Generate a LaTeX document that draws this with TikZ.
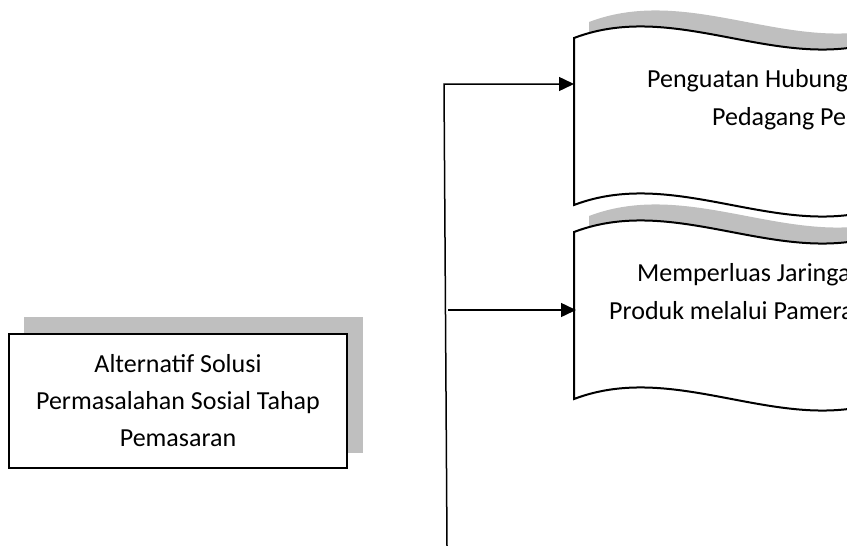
\documentclass[tikz,border=0pt]{standalone}
\usepackage{fontspec}
\setmainfont{Carlito}
\usetikzlibrary{arrows.meta, positioning}
\definecolor{shadowgray}{RGB}{191,191,191}

\begin{document}
\begin{tikzpicture}[x=1pt, y=-1pt, >={Triangle[length=15pt, width=14pt]},
    boxtext/.style={font=\fontsize{26}{37}\selectfont, align=center, inner sep=0pt},
    flagtext/.style={font=\fontsize{26}{37}\selectfont, inner sep=0pt, anchor=base west},
    outline/.style={draw=black, line width=2pt, fill=white},
    shade/.style={fill=shadowgray},
    link/.style={line width=1.5pt}]
                \useasboundingbox (0,0) rectangle (847,546);
                \clip (0,0) rectangle (847,546);

                % Solution box
                \fill[shade] (24,317) rectangle (363,453);
                \draw[outline] (9,334) rectangle (347,468);
                \node[boxtext] (solusi) at (178,401) {Alternatif Solusi\\Permasalahan Sosial Tahap\\Pemasaran};

                % Wave flags with shadow
                \foreach \ytop in {38,232} {
                    \begin{scope}[shift={(574,\ytop)}]
                        \fill[shade] (15,-16) .. controls (120,-56) and (225,24) .. (330,-16)
                            -- (330,151) .. controls (225,191) and (120,111) .. (15,151) -- cycle;
                        \draw[outline] (0,0) .. controls (105,-40) and (210,40) .. (315,0)
                            -- (315,167) .. controls (210,207) and (105,127) .. (0,167) -- cycle;
                    \end{scope}
                }

                % Flag labels
                \node[flagtext] (hubungan1) at (647,87) {Penguatan Hubungan dengan};
                \node[flagtext] (hubungan2) at (712,125) {Pedagang Pelanggan};
                \node[flagtext] (pameran1) at (637,281) {Memperluas Jaringan};
                \node[flagtext] (pameran2) at (609,319) {Produk melalui Pameran};

                % Trunk and branches
                \coordinate (trunktop) at (444,84);
                \coordinate (trunkend) at (447,546);
                \coordinate (branch) at (448,310);
                \coordinate (hubungan) at (574,84);
                \coordinate (pameran) at (576,310);
                \draw[link, ->] (trunkend) -- (trunktop) -- (hubungan);
                \draw[link, ->] (branch) -- (pameran);
            \end{tikzpicture}
\end{document}
